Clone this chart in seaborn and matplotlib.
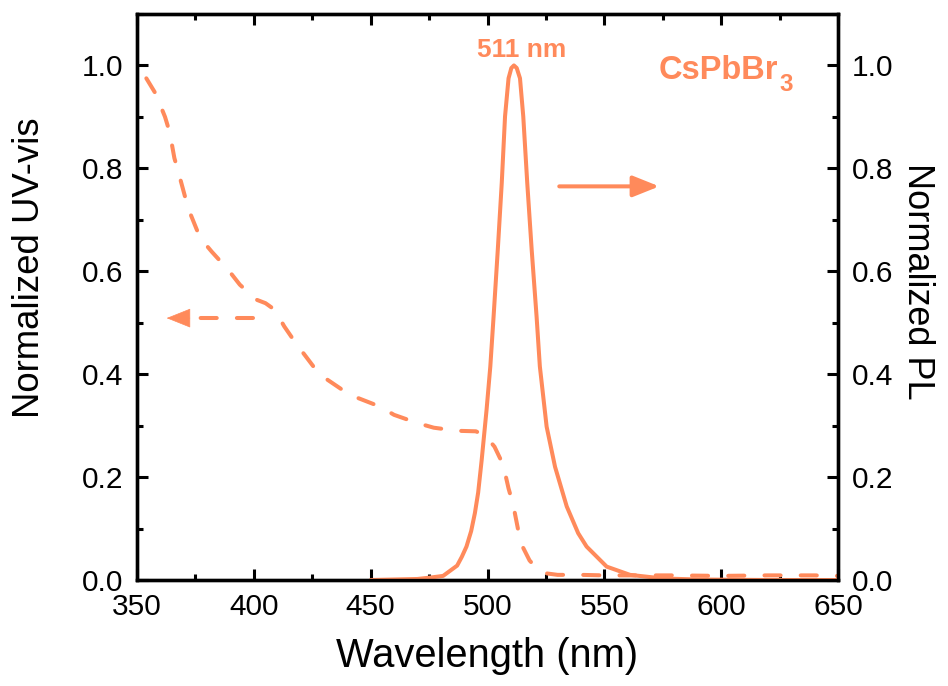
import matplotlib
matplotlib.use("Agg")
import matplotlib.pyplot as plt
import seaborn as sns
import pandas as pd
from matplotlib.ticker import MultipleLocator

# ---- data ----
uv_wl = [354, 358, 362, 364, 366, 368, 370.5, 373, 377, 382, 389, 394, 401, 405, 409,
         413, 418, 428, 441, 454, 460, 470, 477, 487, 495, 498, 501, 503, 506.7, 509,
         511, 513, 515, 518, 521, 525, 530, 540, 550, 560, 570, 580, 600, 620, 640, 650]
uv_val = [0.975, 0.945, 0.90, 0.87, 0.82, 0.788, 0.746, 0.71, 0.665, 0.638, 0.603, 0.574,
          0.545, 0.538, 0.525, 0.493, 0.46, 0.40, 0.36, 0.337, 0.321, 0.305, 0.296, 0.290,
          0.289, 0.283, 0.270, 0.259, 0.224, 0.178, 0.146, 0.10, 0.065, 0.038, 0.023,
          0.013, 0.010, 0.010, 0.009, 0.009, 0.009, 0.009, 0.008, 0.009, 0.009, 0.008]

pl_wl = [450, 460, 470, 476, 481, 484, 487, 489, 491, 493, 494.6, 496, 497.5, 499.6,
         501.2, 502.6, 504.4, 506.1, 507.5, 509, 510.2, 511.3, 512.5, 513.9, 515.3, 517,
         518.9, 521, 522.4, 525.3, 528.9, 533.9, 538.8, 542.4, 551, 561, 575, 590, 620, 650]
pl_val = [0.0, 0.001, 0.002, 0.005, 0.008, 0.018, 0.028, 0.045, 0.065, 0.095, 0.13, 0.17,
          0.233, 0.331, 0.415, 0.512, 0.642, 0.772, 0.901, 0.975, 0.995, 1.0, 0.995, 0.975,
          0.901, 0.772, 0.642, 0.512, 0.415, 0.298, 0.22, 0.143, 0.091, 0.065, 0.026, 0.01,
          0.003, 0.001, 0.0, 0.0]

xticks = [350, 400, 450, 500, 550, 600, 650]
yticks = [0.0, 0.2, 0.4, 0.6, 0.8, 1.0]

peak_label = "511 nm"
sample_main = "CsPbBr"
sample_sub = "3"
color = "#FF8A5B"

uv_df = pd.DataFrame({"wl": uv_wl, "val": uv_val})
pl_df = pd.DataFrame({"wl": pl_wl, "val": pl_val})

sns.set_style("ticks")
plt.rcParams["font.family"] = ["Liberation Sans", "DejaVu Sans"]
plt.rcParams["text.color"] = "black"
plt.rcParams["axes.labelcolor"] = "black"
plt.rcParams["xtick.color"] = "black"
plt.rcParams["ytick.color"] = "black"

fig = plt.figure(figsize=(9.48, 6.86), dpi=100)
ax = fig.add_axes([0.1445, 0.1545, 0.7395, 0.8251])
ax2 = ax.twinx()

LW = 2.9
DASH = (4.0, 5.0)
sns.lineplot(data=uv_df, x="wl", y="val", ax=ax, color=color, lw=LW, sort=False)
sns.lineplot(data=pl_df, x="wl", y="val", ax=ax2, color=color, lw=LW, sort=False)
uvline = ax.get_lines()[0]
uvline.set_dashes(DASH)
uvline.set_dash_capstyle("round")

for a in (ax, ax2):
    a.set_xlim(350, 650)
    a.set_ylim(0, 1.1)
    a.set_yticks(yticks)
    a.yaxis.set_minor_locator(MultipleLocator(0.1))

ax.set_xticks(xticks)
ax.xaxis.set_minor_locator(MultipleLocator(25))
ax.set_xticklabels([str(t) for t in xticks])
ax.set_yticklabels([f"{t:.1f}" for t in yticks])
ax2.set_yticklabels([f"{t:.1f}" for t in yticks])

ax.tick_params(axis="both", which="major", direction="in", length=8, width=2.2,
               labelsize=21.5, pad=9, top=True, right=False, colors="black")
ax.tick_params(axis="both", which="minor", direction="in", length=4.5, width=2.2,
               top=True, right=False, colors="black")
ax.tick_params(axis="y", pad=10)
ax2.tick_params(axis="y", which="major", direction="in", length=8, width=2.2,
                labelsize=21.5, pad=10, colors="black")
ax2.tick_params(axis="y", which="minor", direction="in", length=4.5, width=2.2,
                colors="black")

for a in (ax, ax2):
    for s in a.spines.values():
        s.set_linewidth(2.4)
        s.set_color("black")
        s.set_visible(True)

ax.set_xlabel("Wavelength (nm)", fontsize=28.7, labelpad=12)
ax.set_ylabel("Normalized UV-vis", fontsize=26.3, labelpad=25)
ax.yaxis.label.set_y(0.551)
ax2.set_ylabel("Normalized PL", fontsize=26, rotation=270, labelpad=30)
ax2.yaxis.label.set_y(0.527)

# annotations
ax.text(514.5, 1.016, peak_label, color=color, fontsize=19, fontweight="bold",
        ha="center", va="baseline")
t_main = ax.text(573.4, 0.973, sample_main, color=color, fontsize=23.5,
                 fontweight="bold", ha="left", va="baseline")
fig.canvas.draw()
bb = t_main.get_window_extent()
x_sub, _ = ax.transData.inverted().transform((bb.x1 + 1, bb.y0))
ax.text(x_sub, 0.951, sample_sub, color=color, fontsize=17.5, fontweight="bold",
        ha="left", va="baseline")

# left arrow (dashed shaft) pointing to UV-vis axis
arrow_y_left = 0.509
shaft, = ax.plot([399.6, 372.0], [arrow_y_left, arrow_y_left], color=color, lw=LW)
shaft.set_dashes(DASH)
shaft.set_dash_capstyle("round")
ax.annotate("", xy=(362.7, arrow_y_left), xytext=(372.6, arrow_y_left),
            arrowprops=dict(arrowstyle="-|>,head_length=0.8,head_width=0.32",
                            mutation_scale=20, color=color, lw=0.5,
                            shrinkA=0, shrinkB=0))
# right arrow (solid) pointing to PL axis
arrow_y_right = 0.765
ax.annotate("", xy=(573.5, arrow_y_right), xytext=(530.7, arrow_y_right),
            arrowprops=dict(arrowstyle="-|>,head_length=0.8,head_width=0.32",
                            mutation_scale=20, color=color, lw=LW,
                            shrinkA=0, shrinkB=0))

fig.savefig("out.png", dpi=100)
